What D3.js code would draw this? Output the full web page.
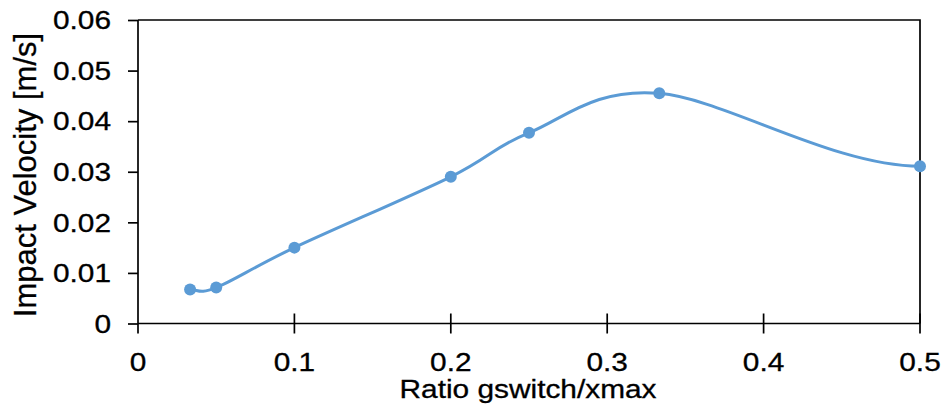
<!DOCTYPE html>
<html>
<head>
<meta charset="utf-8">
<script src="https://cdn.jsdelivr.net/npm/d3@7"></script>
<style>
  html, body { margin: 0; padding: 0; background: #fff; }
  svg { display: block; }
  text { font-family: "Liberation Sans", Arial, sans-serif; fill: #000; stroke: #000; stroke-width: 0.3px; }
</style>
</head>
<body>
<svg id="chart" width="948" height="410"></svg>
<script>
const ratio = [0.0333, 0.05, 0.1, 0.2, 0.25, 0.3333, 0.5];
const velocity = [0.0067, 0.0071, 0.0150, 0.0290, 0.0377, 0.0455, 0.0311];
const xTicks = [0, 0.1, 0.2, 0.3, 0.4, 0.5];
const yTicks = [0, 0.01, 0.02, 0.03, 0.04, 0.05, 0.06];
const xTitle = "Ratio gswitch/xmax";
const yTitle = "Impact Velocity [m/s]";

(function () {
// Smoothed-line curve (spreadsheet style): interior tangents like Catmull-Rom,
// end tangents flat.
function SmoothCurve(context) { this._context = context; }
SmoothCurve.prototype = {
  areaStart() {}, areaEnd() {},
  lineStart() { this._pts = []; },
  point(x, y) { this._pts.push([+x, +y]); },
  lineEnd() {
    const p = this._pts, n = p.length, c = this._context;
    if (!n) return;
    c.moveTo(p[0][0], p[0][1]);
    if (n === 1) return;
    const tan = p.map((q, i) => {
      if (i === 0) return [(p[1][0] - q[0]) / 3, 0];
      if (i === n - 1) return [(q[0] - p[n - 2][0]) / 3, 0];
      return [(p[i + 1][0] - p[i - 1][0]) / 6, (p[i + 1][1] - p[i - 1][1]) / 6];
    });
    for (let i = 0; i < n - 1; i++) {
      c.bezierCurveTo(
        p[i][0] + tan[i][0], p[i][1] + tan[i][1],
        p[i + 1][0] - tan[i + 1][0], p[i + 1][1] - tan[i + 1][1],
        p[i + 1][0], p[i + 1][1]);
    }
  }
};
const smooth = ctx => new SmoothCurve(ctx);

const svg = d3.select("#chart");
const mLeft = 138, mRight = 920, mTop = 20, mBottom = 323.5;
const x = d3.scaleLinear().domain([0, 0.5]).range([mLeft, mRight]);
const y = d3.scaleLinear().domain([0, 0.06]).range([mBottom, mTop]);
const stretch = 1.17;
const fs = 25.5;

// frame (top and right borders)
svg.append("path")
  .attr("d", `M${x(0)},${y(0.06)}H${x(0.5)}V${y(0)}`)
  .attr("fill", "none").attr("stroke", "#000").attr("stroke-width", 1.7);

// y axis
const yAxis = d3.axisLeft(y).tickValues(yTicks).tickSize(10).tickFormat("");
const gy = svg.append("g").attr("transform", `translate(${mLeft},0)`).call(yAxis);
gy.select(".domain").remove();
gy.append("line").attr("x1", 0).attr("x2", 0).attr("y1", mTop).attr("y2", mBottom);
gy.selectAll("line").attr("stroke", "#000").attr("stroke-width", 1.7);

// x axis (crossing ticks)
const gx = svg.append("g").attr("transform", `translate(0,${mBottom})`);
gx.append("line").attr("x1", mLeft).attr("x2", mRight).attr("y1", 0).attr("y2", 0)
  .attr("stroke", "#000").attr("stroke-width", 1.7);
gx.selectAll("line.tick").data(xTicks).enter().append("line")
  .attr("class", "tick")
  .attr("x1", d => x(d)).attr("x2", d => x(d))
  .attr("y1", d => d === 0 ? 0 : -10).attr("y2", 10)
  .attr("stroke", "#000").attr("stroke-width", 1.7);

// y tick labels
svg.selectAll("text.ylab").data(yTicks).enter().append("text")
  .attr("class", "ylab")
  .attr("text-anchor", "end")
  .attr("font-size", fs)
  .attr("transform", d => `translate(111,${y(d) + 9.3}) scale(${stretch},1)`)
  .text(d => d === 0 ? "0" : d3.format(".2f")(d));

// x tick labels
svg.selectAll("text.xlab").data(xTicks).enter().append("text")
  .attr("class", "xlab")
  .attr("text-anchor", "middle")
  .attr("font-size", fs)
  .attr("transform", d => `translate(${x(d)},371) scale(${stretch},1)`)
  .text(d => d === 0 ? "0" : String(d));

// axis titles
svg.append("text")
  .attr("text-anchor", "middle")
  .attr("font-size", fs)
  .attr("transform", `translate(528,398) scale(${stretch},1)`)
  .text(xTitle);

svg.append("text")
  .attr("text-anchor", "middle")
  .attr("font-size", 31)
  .attr("transform", `translate(36,175) rotate(-90)`)
  .text(yTitle);

// series
const pts = ratio.map((r, i) => [r, velocity[i]]);
const line = d3.line().x(d => x(d[0])).y(d => y(d[1])).curve(smooth);
svg.append("path").datum(pts)
  .attr("d", line)
  .attr("fill", "none").attr("stroke", "#5B9BD5").attr("stroke-width", 3);

svg.selectAll("circle.pt").data(pts).enter().append("circle")
  .attr("class", "pt")
  .attr("cx", d => x(d[0])).attr("cy", d => y(d[1])).attr("r", 6)
  .attr("fill", "#5B9BD5");
})();
</script>
</body>
</html>
